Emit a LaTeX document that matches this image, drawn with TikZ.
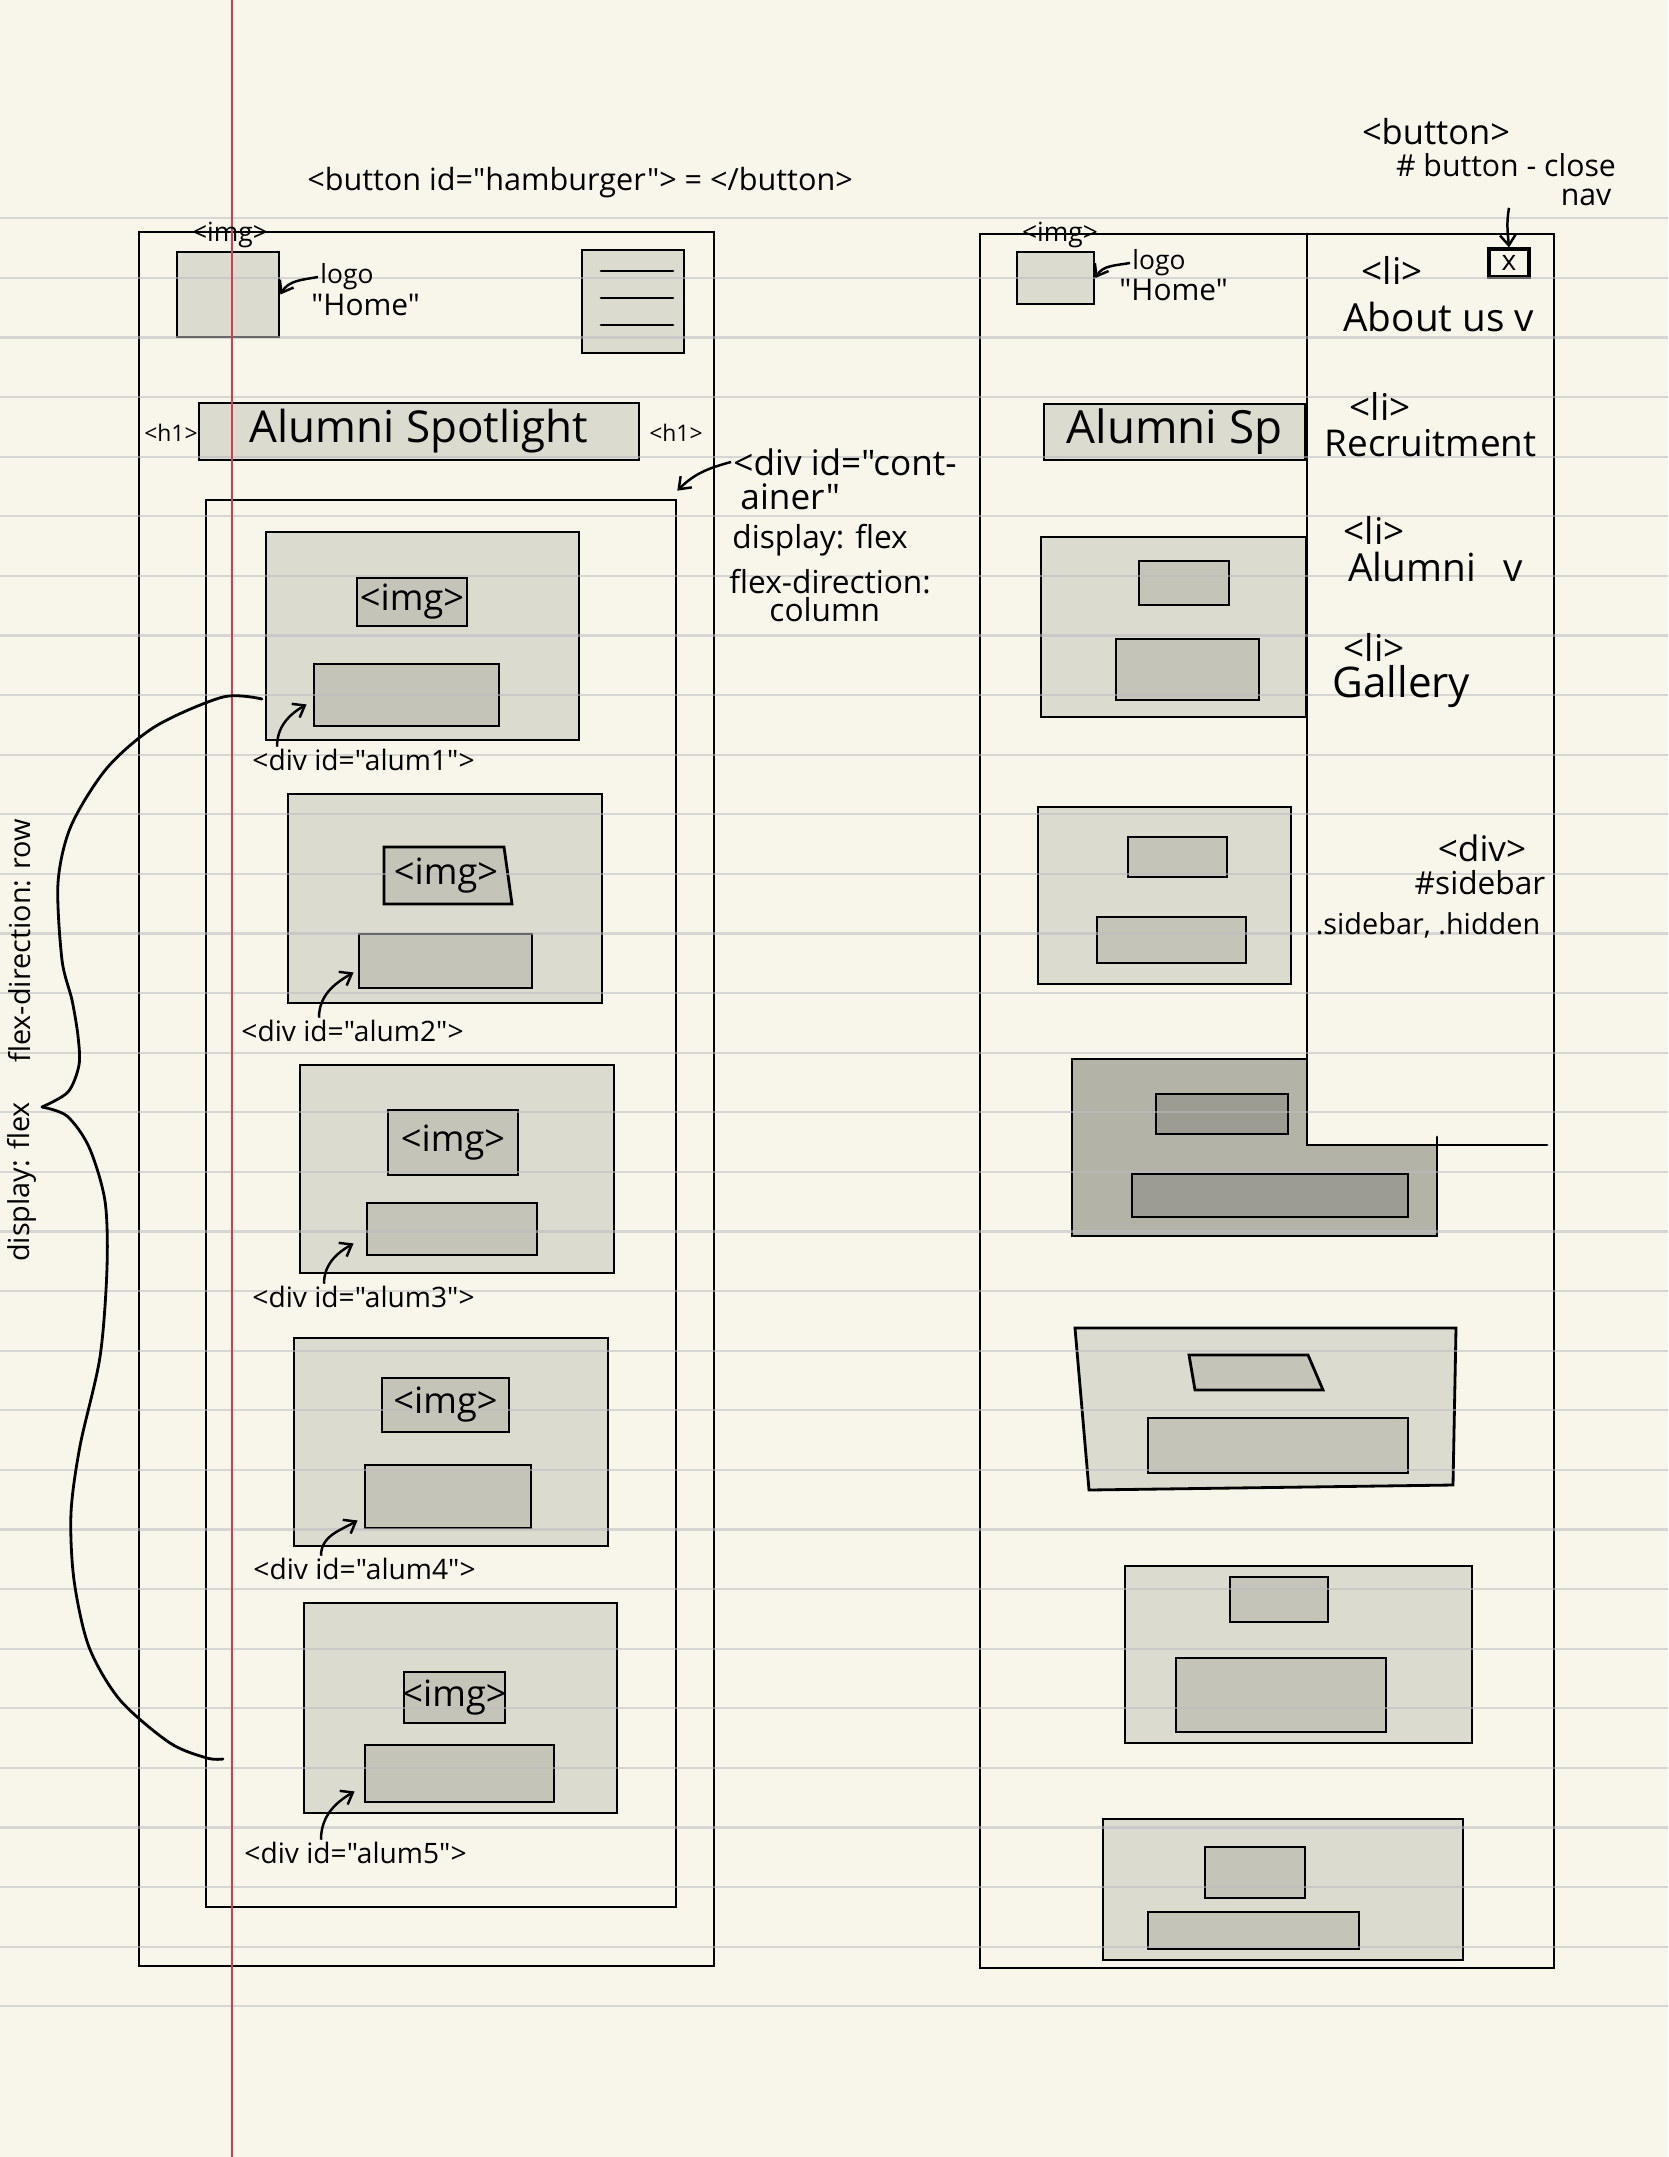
\documentclass[tikz,border=0pt]{standalone}
\usepackage{fontspec}
\setmainfont{Open Sans}[Ligatures=TeXOff]
\usepackage{tikz}
\usetikzlibrary{positioning,arrows.meta,fit,calc}
\definecolor{paper}{RGB}{248,246,235}
\definecolor{rulegray}{RGB}{190,188,192}
\definecolor{margin}{RGB}{214,58,82}
\definecolor{cardfill}{RGB}{220,219,208}
\definecolor{innerfill}{RGB}{197,196,184}
\definecolor{darkfill}{RGB}{180,179,168}
\definecolor{darkinner}{RGB}{157,156,146}

\begin{document}
\begin{tikzpicture}[x=0.01cm, y=-0.01cm,
  frame/.style={draw, line width=0.75pt, inner sep=0pt},
  card/.style={draw, line width=0.8pt, fill=cardfill, inner sep=0pt},
  inner/.style={draw, line width=0.8pt, fill=innerfill, inner sep=0pt},
  hand/.style={font=\fontsize{#1}{#1}\selectfont, inner sep=0.5pt},
  hand/.default=7,
  ar/.style={-{Straight Barb[length=3pt,width=4.5pt]}, line width=0.7pt},
  pen/.style={line width=0.8pt, line cap=round},
]

% paper
\fill[paper] (0,0) rectangle (1668,2157);
\useasboundingbox (0,0) rectangle (1668,2157);

% left screen
\node[frame, fit={(139,232) (714,1966)}] (lfr) {};
\node[card, fit={(177,252) (279,337)}] (limg) {};
\node[card, fit={(582,250) (684,353)}] (ham) {};
\foreach \y in {271,298,325} \draw[pen] (601,\y) -- (673,\y);
\node[card, fit={(199,403) (639,460)}] (lh1) {};
\node[frame, fit={(206,500) (676,1907)}] (cont) {};

\node[card, fit={(266,532) (579,740)}] (c1) {};
\node[inner, fit={(357,578) (467,626)}] (i1) {};
\node[inner, fit={(314,664) (499,726)}] (b1) {};

\node[card, fit={(288,794) (602,1003)}] (c2) {};
\draw[inner] (384,847) -- (504,847) -- (512,904) -- (384,904) -- cycle;
\node[inner, fit={(359,934) (532,988)}] (b2) {};

\node[card, fit={(300,1065) (614,1273)}] (c3) {};
\node[inner, fit={(388,1110) (518,1175)}] (i3) {};
\node[inner, fit={(367,1203) (537,1255)}] (b3) {};

\node[card, fit={(294,1338) (608,1546)}] (c4) {};
\node[inner, fit={(382,1378) (509,1432)}] (i4) {};
\node[inner, fit={(365,1465) (531,1528)}] (b4) {};

\node[card, fit={(304,1603) (617,1813)}] (c5) {};
\node[inner, fit={(404,1672) (505,1723)}] (i5) {};
\node[inner, fit={(365,1745) (554,1802)}] (b5) {};

% right screen
\node[frame, fit={(980,234) (1554,1968)}] (rfr) {};
\node[card, fit={(1017,252) (1094,304)}] (rimg) {};
\node[card, fit={(1044,404) (1305,460)}] (rh1) {};

\node[card, fit={(1041,537) (1306,717)}] (r1) {};
\node[inner, fit={(1139,561) (1229,605)}] (r1i) {};
\node[inner, fit={(1116,639) (1259,700)}] (r1b) {};

\node[card, fit={(1038,807) (1291,984)}] (r2) {};
\node[inner, fit={(1128,837) (1227,877)}] (r2i) {};
\node[inner, fit={(1097,917) (1246,963)}] (r2b) {};

\draw[card, fill=darkfill] (1072,1059) -- (1307,1059) -- (1307,1145) -- (1437,1145)
  -- (1437,1236) -- (1072,1236) -- cycle;
\node[inner, fill=darkinner, fit={(1156,1094) (1288,1134)}] (r3i) {};
\node[inner, fill=darkinner, fit={(1132,1174) (1408,1217)}] (r3b) {};

\draw[card] (1075,1328) -- (1456,1328) -- (1453,1485) -- (1089,1490) -- cycle;
\draw[inner] (1189,1355) -- (1308,1355) -- (1323,1390) -- (1195,1390) -- cycle;
\node[inner, fit={(1148,1418) (1408,1473)}] (r4b) {};

\node[card, fit={(1125,1566) (1472,1743)}] (r5) {};
\node[inner, fit={(1230,1577) (1328,1622)}] (r5i) {};
\node[inner, fit={(1176,1658) (1386,1732)}] (r5b) {};

\node[card, fit={(1103,1819) (1463,1960)}] (r6) {};
\node[inner, fit={(1205,1847) (1305,1898)}] (r6i) {};
\node[inner, fit={(1148,1912) (1359,1949)}] (r6b) {};

% sidebar
\draw[pen] (1307,234) -- (1307,1145) -- (1547,1145);
\draw[pen] (1437,1137) -- (1437,1145);
\node[frame, line width=0.9pt, fit={(1489,249) (1529,277)}] (xbtn) {};

% paper lines
\foreach \k in {0,...,30}
  \draw[rulegray, opacity=0.55, line width=0.6pt] (0,{218.3+59.6*\k}) -- (1668,{218.3+59.6*\k});
\draw[margin, line width=0.6pt] (232,0) -- (232,2157);

% texts in boxes
\node[hand=12.5] (lh1t) at (lh1) {Alumni Spotlight};
\node[hand=13] (rh1t) at (rh1) {Alumni Sp};
\node[hand=10.3] (i1t) at (i1) {<img>};
\node[hand=10.3] (i2t) at (446,876) {<img>};
\node[hand=10.3] (i3t) at (i3) {<img>};
\node[hand=10.3] (i4t) at (i4) {<img>};
\node[hand=10.3] (i5t) at (i5) {<img>};
\node[hand=8] (xbtnt) at (xbtn) {x};

% notes, left
\node[hand=8.7] (hamlbl) at (580,183) {<button id="hamburger"> = </button>};
\node[hand=7.5, anchor=south] (limglbl) at (230,250) {<img>};
\node[hand=7.5, anchor=west] (llogo) at (318,277) {logo};
\node[hand=8.5, anchor=west] (lhome) at (309,305) {"Home"};
\draw[ar] (llogo.west) to[out=190,in=60] (limg.east);
\node[hand=6.5] (lh1a) at (171,433) {<h1>};
\node[hand=6.5] (lh1b) at (676,433) {<h1>};

\node[hand=10, anchor=west] (cnt1) at (731,462) {<div id="cont-};
\node[hand=10, anchor=west] (cnt2) at (738,497) {ainer"};
\node[hand=9, anchor=west] (cnt3) at (730,540) {display: flex};
\node[hand=9, anchor=west] (cnt4) at (727,582) {flex-direction:};
\node[hand=9, anchor=west] (cnt5) at (767,610) {column};
\draw[ar] (cnt1.west) to[out=195,in=45] ($(cont.north east)+(0,-8)$);

\node[hand=8.2, rotate=90] (frow) at (20,941) {flex-direction: row};
\node[hand=8.2, rotate=90] (dflex) at (22,1182) {display: flex};
\draw[pen] plot[smooth] coordinates {(262,699) (223,697) (156,726) (107,768) (71,826)
  (58,883) (62,960) (72,1000) (78,1036) (79,1065) (68,1092) (42,1107)};
\draw[pen] plot[smooth] coordinates {(42,1107) (67,1116) (89,1147) (105,1201) (107,1268)
  (100,1357) (80,1446) (71,1513) (74,1580) (89,1647) (120,1700) (170,1743) (207,1758) (223,1759)};

\node[hand=8, anchor=west] (l1) at (250,760) {<div id="alum1">};
\node[hand=8, anchor=west] (l2) at (239,1031) {<div id="alum2">};
\node[hand=8, anchor=west] (l3) at (250,1297) {<div id="alum3">};
\node[hand=8, anchor=west] (l4) at (251,1569) {<div id="alum4">};
\node[hand=8, anchor=west] (l5) at (242,1853) {<div id="alum5">};
\draw[ar] ($(l1.north west)+(27,0)$) to[out=90,in=210] ($(b1.south west)+(-6,-23)$);
\draw[ar] ($(l2.north west)+(80,0)$) to[out=90,in=210] ($(b2.south west)+(-4,-17)$);
\draw[ar] ($(l3.north west)+(74,0)$) to[out=90,in=210] ($(b3.south west)+(-12,-13)$);
\draw[ar] ($(l4.north west)+(70,0)$) to[out=90,in=210] ($(b4.south west)+(-6,-9)$);
\draw[ar] ($(l5.north west)+(79,0)$) to[out=90,in=210] ($(b5.south west)+(-9,-12)$);

% notes, right
\node[hand=9.8] (btn) at (1436,132) {<button>};
\node[hand=8.6] (btncls) at (1506,165) {\# button - close};
\node[hand=8.6] (nav) at (1586,197) {nav};
\draw[ar] (xbtn.north |- nav.south) to[out=260,in=95] (xbtn.north);

\node[hand=7.5, anchor=south] (rimglbl) at (1060,250) {<img>};
\node[hand=7.5, anchor=west] (rlogo) at (1130,263) {logo};
\node[hand=8.5, anchor=west] (rhome) at (1117,290) {"Home"};
\draw[ar] (rlogo.west) to[out=190,in=60] (rimg.east);

\node[hand=10.5] (li1) at (1392,270) {<li>};
\node[hand=11, anchor=west] (about) at (1341,317) {About us v};
\node[hand=10.5] (li2) at (1380,406) {<li>};
\node[hand=10.5, anchor=west] (recr) at (1322,443) {Recruitment};
\node[hand=10.5] (li3) at (1374,530) {<li>};
\node[hand=11, anchor=west] (alum) at (1346,567) {Alumni\hspace{0.7em}v};
\node[hand=10.5] (li4) at (1374,647) {<li>};
\node[hand=12, anchor=west] (gall) at (1330,687) {Gallery};
\node[hand=10] (sbdiv) at (1482,848) {<div>};
\node[hand=9] (sbid) at (1480,883) {\#sidebar};
\node[hand=8.2] (sbcls) at (1428,925) {.sidebar, .hidden};
\end{tikzpicture}
\end{document}
